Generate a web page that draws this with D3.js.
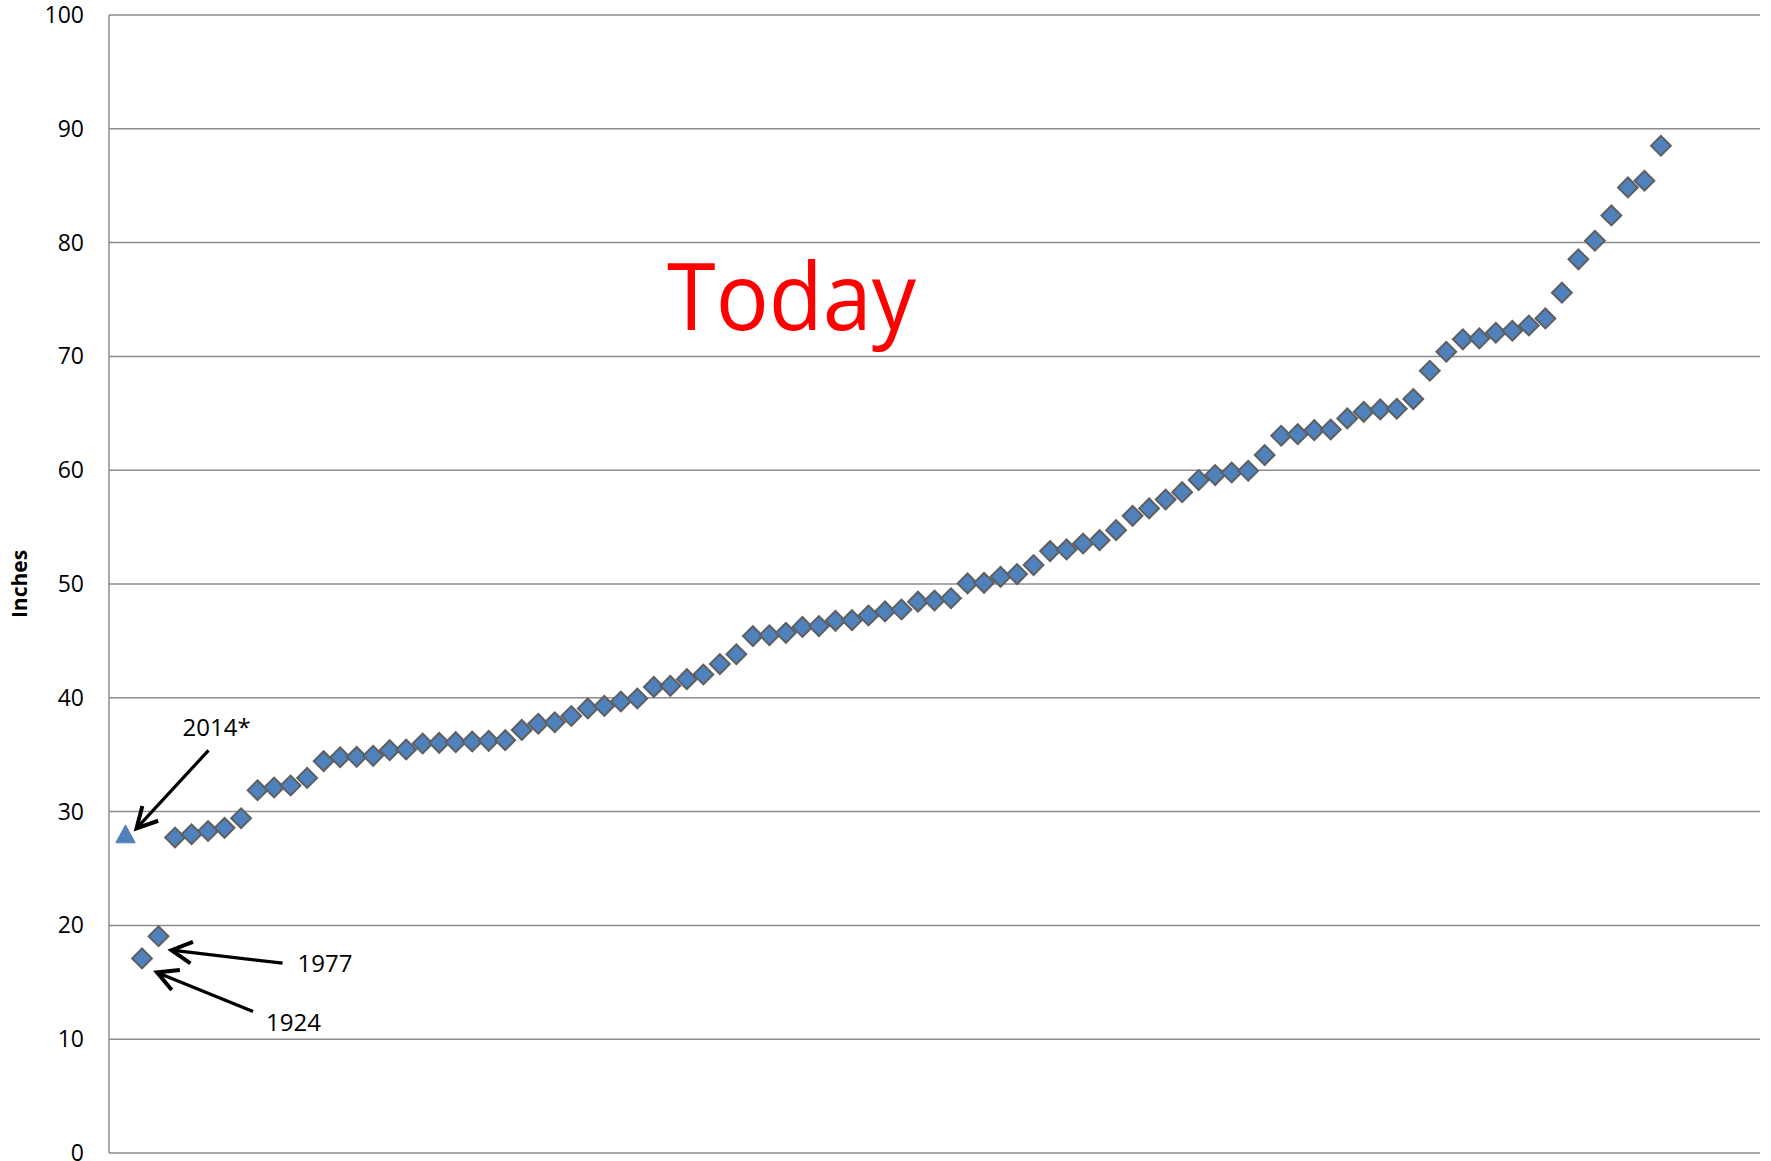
<!DOCTYPE html>
<html>
<head>
<meta charset="utf-8">
<script src="https://cdn.jsdelivr.net/npm/d3@7"></script>
<style>
  body { margin: 0; background: #fff; }
  text { font-family: "Open Sans", Lato, sans-serif; }
</style>
</head>
<body>
<script>
// Rainfall totals sorted low -> high, plotted by rank (first two are 1924 and 1977)
const sortedRain = [
  17.1, 19.05,
  27.72, 28.01, 28.30, 28.57, 29.42, 31.88, 32.12, 32.29, 32.96, 34.43,
  34.78, 34.81, 34.90, 35.40, 35.46, 35.98, 36.04, 36.10, 36.16, 36.22,
  36.28, 37.18, 37.72, 37.85, 38.40, 39.07, 39.29, 39.68, 39.94, 40.96,
  41.05, 41.64, 42.05, 42.96, 43.83, 45.42, 45.50, 45.71, 46.23, 46.30,
  46.76, 46.82, 47.23, 47.59, 47.76, 48.45, 48.55, 48.75, 50.05, 50.10,
  50.63, 50.87, 51.66, 52.89, 53.04, 53.56, 53.85, 54.73, 55.99, 56.64,
  57.43, 58.07, 59.13, 59.57, 59.80, 59.95, 61.33, 63.03, 63.17, 63.52,
  63.58, 64.55, 65.13, 65.34, 65.40, 66.25, 68.74, 70.41, 71.50, 71.58,
  72.08, 72.25, 72.72, 73.34, 75.60, 78.53, 80.16, 82.39, 84.85, 85.44,
  88.51
];
const firstRank = 2;
const current2014 = { rank: 1, value: 28.0 };
const yTicks = [0, 10, 20, 30, 40, 50, 60, 70, 80, 90, 100];

const width = 1771, height = 1161;
const margin = { left: 109, right: 11, top: 15, bottom: 8 };

const svg = d3.select('body').append('svg')
    .attr('width', width)
    .attr('height', height);

const x = d3.scaleLinear().domain([0, 100]).range([margin.left, width - margin.right]);
const y = d3.scaleLinear().domain([0, 100]).range([height - margin.bottom, margin.top]);

const gridColor = '#8c8c8c';

// gridlines
svg.append('g')
    .selectAll('line')
    .data(yTicks.filter(d => d > 0))
    .enter().append('line')
    .attr('x1', x(0)).attr('x2', x(100))
    .attr('y1', d => y(d)).attr('y2', d => y(d))
    .attr('stroke', gridColor)
    .attr('stroke-width', 1.5);

// axes lines
svg.append('line')
    .attr('x1', x(0)).attr('x2', x(0))
    .attr('y1', y(0)).attr('y2', y(100))
    .attr('stroke', gridColor).attr('stroke-width', 1.5);
svg.append('line')
    .attr('x1', x(0)).attr('x2', x(100))
    .attr('y1', y(0)).attr('y2', y(0))
    .attr('stroke', gridColor).attr('stroke-width', 1.5);

// tick labels (the 0 is clipped by the bottom edge, as in the original)
svg.append('g')
    .selectAll('text')
    .data(yTicks)
    .enter().append('text')
    .attr('x', x(0) - 25)
    .attr('y', d => y(d))
    .attr('dy', '0.35em')
    .attr('text-anchor', 'end')
    .attr('font-size', 23)
    .attr('fill', '#000')
    .text(d => d);

// axis title
svg.append('text')
    .attr('transform', 'translate(27,' + (y(50)) + ') rotate(-90)')
    .attr('text-anchor', 'middle')
    .attr('font-size', 21)
    .attr('font-weight', 'bold')
    .text('Inches');

// "Today" label
svg.append('text')
    .attr('x', x(33.8))
    .attr('y', y(72.3))
    .attr('font-size', 94)
    .attr('textLength', 249)
    .attr('lengthAdjust', 'spacingAndGlyphs')
    .attr('fill', '#ff0000')
    .text('Today');

// diamonds
const diamond = d3.symbol().type(d3.symbolSquare).size(196);
svg.append('g')
    .selectAll('path')
    .data(sortedRain)
    .enter().append('path')
    .attr('d', diamond)
    .attr('transform', (d, i) => 'translate(' + x(i + firstRank) + ',' + y(d) + ') rotate(45)')
    .attr('fill', '#4f81bd')
    .attr('stroke', '#5f5f5f')
    .attr('stroke-width', 2);

// 2014 triangle
svg.append('path')
    .attr('d', 'M0,-9.5L9.8,8.5L-9.8,8.5Z')
    .attr('transform', 'translate(' + x(current2014.rank) + ',' + y(current2014.value) + ')')
    .attr('fill', '#4f81bd')
    .attr('stroke', '#4a78b0')
    .attr('stroke-width', 0.8);

// annotations: anchored on a data point, offsets in px
const notes = [
  { label: '2014*', rank: current2014.rank, value: current2014.value, tip: [11, -6], tail: [83, -84], text: [57, -98] },
  { label: '1977', rank: 3, value: sortedRain[1], tip: [13, 14], tail: [124, 27], text: [139, 36] },
  { label: '1924', rank: 2, value: sortedRain[0], tip: [15, 14], tail: [111, 53], text: [124, 73] }
];

const ann = svg.append('g');
notes.forEach(n => {
  const px = x(n.rank), py = y(n.value);
  const tx = px + n.tip[0], ty = py + n.tip[1];
  const sx = px + n.tail[0], sy = py + n.tail[1];
  ann.append('line')
      .attr('x1', sx).attr('y1', sy).attr('x2', tx).attr('y2', ty)
      .attr('stroke', '#000').attr('stroke-width', 3.2);
  // open arrowhead
  const ang = Math.atan2(sy - ty, sx - tx);
  const len = 23, spread = 28 * Math.PI / 180;
  const a1 = [tx + len * Math.cos(ang + spread), ty + len * Math.sin(ang + spread)];
  const a2 = [tx + len * Math.cos(ang - spread), ty + len * Math.sin(ang - spread)];
  ann.append('path')
      .attr('d', 'M' + a1 + 'L' + tx + ',' + ty + 'L' + a2)
      .attr('fill', 'none')
      .attr('stroke', '#000')
      .attr('stroke-width', 4)
      .attr('stroke-linejoin', 'miter');
  ann.append('text')
      .attr('x', px + n.text[0])
      .attr('y', py + n.text[1])
      .attr('font-size', 24)
      .text(n.label);
});
</script>
</body>
</html>
